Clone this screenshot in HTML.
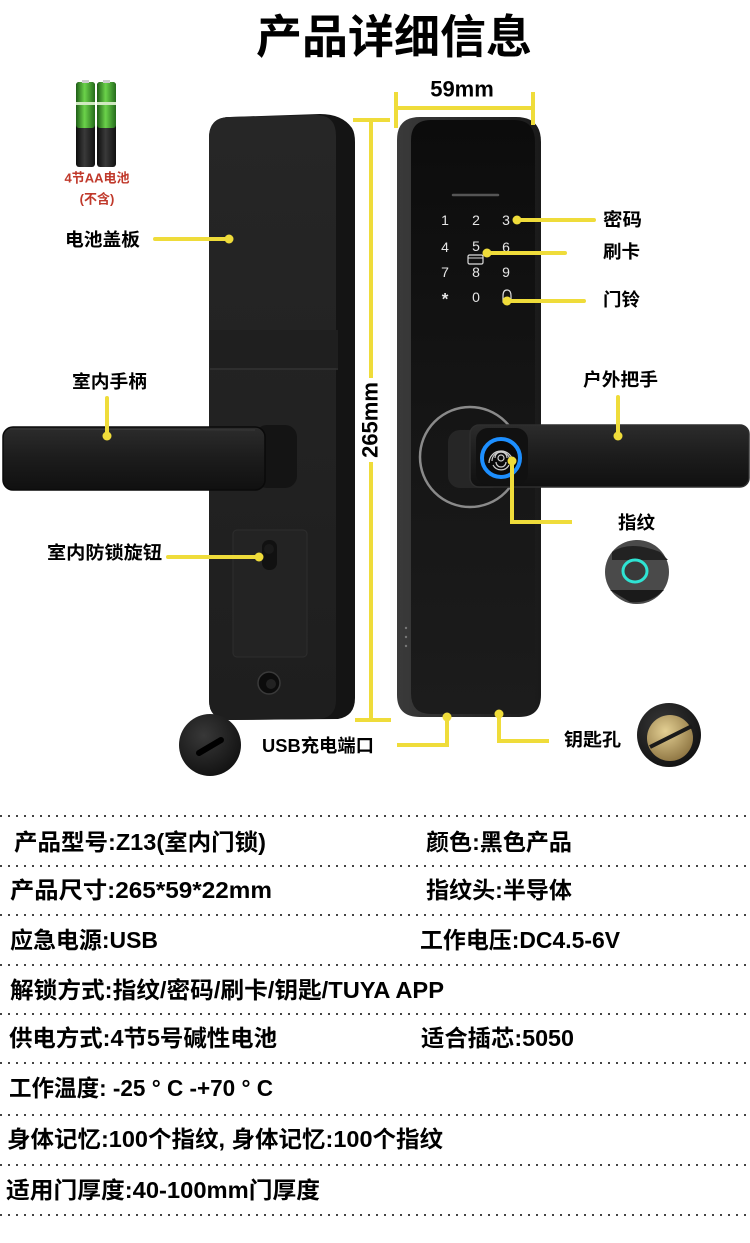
<!DOCTYPE html>
<html><head><meta charset="utf-8"><style>
html,body{margin:0;padding:0;background:#fff;}
svg{display:block;}
text{font-family:"Liberation Sans","Noto Sans CJK SC",sans-serif;font-weight:bold;}
</style></head><body>
<svg width="750" height="1243" viewBox="0 0 750 1243" xmlns="http://www.w3.org/2000/svg">
<defs>
<linearGradient id="grn" x1="0" x2="1" y1="0" y2="0"><stop offset="0" stop-color="#1f5e17"/><stop offset="0.45" stop-color="#6bd24a"/><stop offset="1" stop-color="#256c1c"/></linearGradient>
<linearGradient id="blk" x1="0" x2="1" y1="0" y2="0"><stop offset="0" stop-color="#0c0c0c"/><stop offset="0.45" stop-color="#3a3a3a"/><stop offset="1" stop-color="#111"/></linearGradient>
<linearGradient id="lface" x1="0" x2="0" y1="0" y2="1"><stop offset="0" stop-color="#262626"/><stop offset="1" stop-color="#1e1e1e"/></linearGradient>
<linearGradient id="rface" x1="0" x2="0" y1="0" y2="1"><stop offset="0" stop-color="#0c0c0c"/><stop offset="0.5" stop-color="#151515"/><stop offset="1" stop-color="#1c1c1c"/></linearGradient>
<linearGradient id="rside" x1="0" x2="1" y1="0" y2="0"><stop offset="0" stop-color="#3a3a3a"/><stop offset="1" stop-color="#1a1a1a"/></linearGradient>
<linearGradient id="hdl" x1="0" x2="0" y1="0" y2="1"><stop offset="0" stop-color="#2c2c2c"/><stop offset="0.5" stop-color="#1c1c1c"/><stop offset="1" stop-color="#101010"/></linearGradient>
<radialGradient id="gold" cx="0.4" cy="0.35" r="0.7"><stop offset="0" stop-color="#e3cf93"/><stop offset="1" stop-color="#8d7441"/></radialGradient>
<radialGradient id="thumb" cx="0.4" cy="0.35" r="0.7"><stop offset="0" stop-color="#383838"/><stop offset="1" stop-color="#111"/></radialGradient>
</defs>
<rect width="750" height="1243" fill="#fff"/>

<!-- Title -->
<text x="394" y="37" font-size="46" text-anchor="middle" dominant-baseline="central" fill="#000">产品详细信息</text>

<!-- Batteries -->
<g>
  <rect x="76" y="82" width="19" height="85" rx="3" fill="url(#blk)"/>
  <rect x="76" y="82" width="19" height="46" rx="3" fill="url(#grn)"/>
  <rect x="97" y="82" width="19" height="85" rx="3" fill="url(#blk)"/>
  <rect x="97" y="82" width="19" height="46" rx="3" fill="url(#grn)"/>
  <rect x="76" y="102" width="19" height="3" fill="#cfe8c0"/>
  <rect x="97" y="102" width="19" height="3" fill="#cfe8c0"/>
  <rect x="82" y="80" width="7" height="3" fill="#ccc"/>
  <rect x="103" y="80" width="7" height="3" fill="#ccc"/>
</g>
<text x="97" y="178" font-size="13" text-anchor="middle" dominant-baseline="central" fill="#c0392b">4节AA电池</text>
<text x="97" y="199" font-size="13" text-anchor="middle" dominant-baseline="central" fill="#c0392b">(不含)</text>

<!-- Left lock body -->
<path d="M209,138 Q209,117 230,117 L320,114 Q342,114 352,128 Q355,133 355,142 L355,698 Q355,716 338,719 L230,720 Q209,720 209,700 Z" fill="#141414"/>
<path d="M209,138 Q209,117 230,117 L316,115 Q336,115 336,136 L336,700 Q336,719 316,719 L230,720 Q209,720 209,700 Z" fill="url(#lface)"/>
<rect x="210" y="330" width="128" height="38" fill="#1f1f1f"/>
<line x1="210" y1="369" x2="338" y2="369" stroke="#333" stroke-width="1.5"/>
<!-- thumb-turn plate -->
<rect x="233" y="530" width="74" height="127" rx="4" fill="#232323" stroke="#2e2e2e"/>
<rect x="262" y="540" width="15" height="30" rx="7" fill="#111"/>
<circle cx="269" cy="549" r="5" fill="#1a1a1a"/>
<!-- hole -->
<circle cx="269" cy="683" r="11" fill="#0c0c0c" stroke="#3a3a3a" stroke-width="1.5"/>
<circle cx="271" cy="684" r="5" fill="#222"/>
<!-- left handle -->
<rect x="255" y="425" width="42" height="63" rx="12" fill="#141414"/>
<rect x="3" y="427" width="262" height="63" rx="10" fill="url(#hdl)" stroke="#0a0a0a" stroke-width="1.5"/>
<line x1="10" y1="429" x2="255" y2="430" stroke="#3a3a3a" stroke-width="1"/>

<!-- Right lock body -->
<path d="M397,140 Q397,117 420,117 L516,117 Q541,117 541,142 L541,695 Q541,717 519,717 L420,717 Q397,717 397,695 Z" fill="url(#rside)"/>
<path d="M411,140 Q411,120 431,120 L514,120 Q535,120 535,142 L535,693 Q535,714 514,714 L431,714 Q411,714 411,693 Z" fill="url(#rface)"/>
<line x1="453" y1="195" x2="498" y2="195" stroke="#555" stroke-width="2.5" stroke-linecap="round"/>
<g font-size="14" fill="#e6e6e6" text-anchor="middle" dominant-baseline="central" style="font-weight:normal">
  <text x="445" y="220" style="font-weight:normal">1</text>
  <text x="476" y="220" style="font-weight:normal">2</text>
  <text x="506" y="220" style="font-weight:normal">3</text>
  <text x="445" y="247" style="font-weight:normal">4</text>
  <text x="476" y="246" style="font-weight:normal">5</text>
  <text x="506" y="247" style="font-weight:normal">6</text>
  <text x="445" y="272" style="font-weight:normal">7</text>
  <text x="476" y="272" style="font-weight:normal">8</text>
  <text x="506" y="272" style="font-weight:normal">9</text>
  <text x="445" y="299" font-size="17">*</text>
  <text x="476" y="297" style="font-weight:normal">0</text>
</g>
<rect x="468" y="255" width="15" height="9" rx="1.5" fill="none" stroke="#ddd" stroke-width="1.2"/>
<line x1="468" y1="258" x2="483" y2="258" stroke="#ddd" stroke-width="1"/>
<path d="M503,302 L503,296 Q503,290 507,290 Q511,290 511,296 L511,302 Z" fill="none" stroke="#ddd" stroke-width="1.2"/>
<!-- side dots -->
<circle cx="406" cy="628" r="1.2" fill="#777"/><circle cx="406" cy="637" r="1.2" fill="#777"/><circle cx="406" cy="646" r="1.2" fill="#777"/>
<!-- ring -->
<circle cx="470" cy="457" r="50" fill="none" stroke="#8a8a8a" stroke-width="2.5"/>
<!-- right handle -->
<rect x="448" y="430" width="55" height="58" rx="12" fill="#262626"/>
<rect x="470" y="425" width="279" height="62" rx="9" fill="url(#hdl)" stroke="#2e2e2e" stroke-width="1.5"/>
<rect x="476" y="428" width="52" height="57" rx="12" fill="#111"/>
<!-- fingerprint -->
<circle cx="501" cy="458" r="19" fill="#0a0a0a" stroke="#1d8fff" stroke-width="4"/>
<g fill="none" stroke="#cfcfcf" stroke-width="1.2">
  <circle cx="501" cy="458" r="3"/>
  <path d="M495,458 A6,6 0 1 1 507,458" />
  <path d="M492,461 A9,9 0 1 1 510,461" />
  <path d="M489,463 A12,12 0 1 1 513,463" />
  <path d="M496,462 A5,5 0 0 0 506,462" />
  <path d="M493,465 A9,9 0 0 0 509,465" />
</g>

<!-- Dimension lines -->
<g stroke="#efdc3a" stroke-width="4" fill="none" stroke-linecap="butt">
  <line x1="396" y1="108" x2="533" y2="108"/>
  <line x1="396" y1="92" x2="396" y2="128"/>
  <line x1="533" y1="92" x2="533" y2="125"/>
  <line x1="371" y1="120" x2="371" y2="720"/>
  <line x1="353" y1="120" x2="390" y2="120"/>
  <line x1="355" y1="720" x2="391" y2="720"/>
</g>
<text x="462" y="89" font-size="22" text-anchor="middle" dominant-baseline="central" fill="#000">59mm</text>
<rect x="359" y="378" width="24" height="84" fill="#fff"/>
<text x="0" y="0" font-size="22" text-anchor="middle" dominant-baseline="central" fill="#000" transform="translate(370,420) rotate(-90)">265mm</text>

<!-- Leaders -->
<g stroke="#efdc3a" stroke-width="4" fill="none" stroke-linecap="round" stroke-linejoin="miter">
  <line x1="155" y1="239" x2="229" y2="239"/>
  <line x1="107" y1="398" x2="107" y2="436"/>
  <line x1="168" y1="557" x2="259" y2="557"/>
  <polyline points="397,745 447,745 447,718" stroke-linecap="butt"/>
  <polyline points="499,714 499,741 549,741" stroke-linecap="butt"/>
  <line x1="517" y1="220" x2="594" y2="220"/>
  <line x1="487" y1="253" x2="565" y2="253"/>
  <line x1="507" y1="301" x2="584" y2="301"/>
  <line x1="618" y1="397" x2="618" y2="436"/>
  <polyline points="512,461 512,522 572,522" stroke-linecap="butt"/>
</g>
<g fill="#efdc3a">
  <circle cx="229" cy="239" r="4.5"/>
  <circle cx="107" cy="436" r="4.5"/>
  <circle cx="259" cy="557" r="4.5"/>
  <circle cx="447" cy="717" r="4.5"/>
  <circle cx="499" cy="714" r="4.5"/>
  <circle cx="517" cy="220" r="4.5"/>
  <circle cx="487" cy="253" r="4.5"/>
  <circle cx="507" cy="301" r="4.5"/>
  <circle cx="618" cy="436" r="4.5"/>
  <circle cx="512" cy="461" r="4.5"/>
</g>

<!-- Labels -->
<g font-size="18" fill="#000" dominant-baseline="central">
  <text x="65" y="240" textLength="75" lengthAdjust="spacingAndGlyphs">电池盖板</text>
  <text x="72" y="382" textLength="75" lengthAdjust="spacingAndGlyphs">室内手柄</text>
  <text x="47" y="553" textLength="115" lengthAdjust="spacingAndGlyphs">室内防锁旋钮</text>
  <text x="262" y="746" textLength="112" lengthAdjust="spacingAndGlyphs">USB充电端口</text>
  <text x="603" y="220" textLength="39" lengthAdjust="spacingAndGlyphs">密码</text>
  <text x="603" y="252" textLength="37" lengthAdjust="spacingAndGlyphs">刷卡</text>
  <text x="603" y="300" textLength="37" lengthAdjust="spacingAndGlyphs">门铃</text>
  <text x="583" y="380" textLength="75" lengthAdjust="spacingAndGlyphs">户外把手</text>
  <text x="618" y="523" textLength="37" lengthAdjust="spacingAndGlyphs">指纹</text>
  <text x="564" y="740" textLength="57" lengthAdjust="spacingAndGlyphs">钥匙孔</text>
</g>

<!-- Thumbnails -->
<circle cx="210" cy="745" r="31" fill="url(#thumb)"/>
<line x1="199" y1="753" x2="221" y2="740" stroke="#000" stroke-width="6" stroke-linecap="round"/>
<circle cx="637" cy="572" r="32" fill="#4a4a4a"/>
<path d="M612,552 Q630,540 660,552 L668,560 L612,560 Z" fill="#222"/>
<path d="M610,590 L664,590 Q650,604 630,602 Z" fill="#1a1a1a"/>
<ellipse cx="635" cy="571" rx="12" ry="11" fill="#3a3a3a" stroke="#2fe3d3" stroke-width="3"/>
<circle cx="669" cy="735" r="32" fill="url(#thumb)"/>
<circle cx="670" cy="738" r="23" fill="url(#gold)"/>
<line x1="650" y1="747" x2="692" y2="726" stroke="#1a1a1a" stroke-width="4"/>

<!-- Table -->
<g stroke="#444" stroke-width="2" stroke-dasharray="2 6">
  <line x1="0" y1="816" x2="750" y2="816"/>
  <line x1="0" y1="866" x2="750" y2="866"/>
  <line x1="0" y1="915" x2="750" y2="915"/>
  <line x1="0" y1="965" x2="750" y2="965"/>
  <line x1="0" y1="1014" x2="750" y2="1014"/>
  <line x1="0" y1="1063" x2="750" y2="1063"/>
  <line x1="0" y1="1115" x2="750" y2="1115"/>
  <line x1="0" y1="1165" x2="750" y2="1165"/>
  <line x1="0" y1="1215" x2="750" y2="1215"/>
</g>
<g font-size="23" fill="#000" dominant-baseline="central">
  <text x="14" y="842" textLength="252" lengthAdjust="spacingAndGlyphs">产品型号:Z13(室内门锁)</text>
  <text x="426" y="842" textLength="146" lengthAdjust="spacingAndGlyphs">颜色:黑色产品</text>
  <text x="10" y="890" textLength="262" lengthAdjust="spacingAndGlyphs">产品尺寸:265*59*22mm</text>
  <text x="426" y="890" textLength="146" lengthAdjust="spacingAndGlyphs">指纹头:半导体</text>
  <text x="10" y="940" textLength="148" lengthAdjust="spacingAndGlyphs">应急电源:USB</text>
  <text x="420" y="940" textLength="200" lengthAdjust="spacingAndGlyphs">工作电压:DC4.5-6V</text>
  <text x="10" y="990" textLength="434" lengthAdjust="spacingAndGlyphs">解锁方式:指纹/密码/刷卡/钥匙/TUYA APP</text>
  <text x="9" y="1038" textLength="268" lengthAdjust="spacingAndGlyphs">供电方式:4节5号碱性电池</text>
  <text x="421" y="1038" textLength="153" lengthAdjust="spacingAndGlyphs">适合插芯:5050</text>
  <text x="9" y="1088" textLength="264" lengthAdjust="spacingAndGlyphs">工作温度: -25 ° C -+70 ° C</text>
  <text x="7" y="1139" textLength="436" lengthAdjust="spacingAndGlyphs">身体记忆:100个指纹, 身体记忆:100个指纹</text>
  <text x="6" y="1190" textLength="314" lengthAdjust="spacingAndGlyphs">适用门厚度:40-100mm门厚度</text>
</g>
</svg>
</body></html>
